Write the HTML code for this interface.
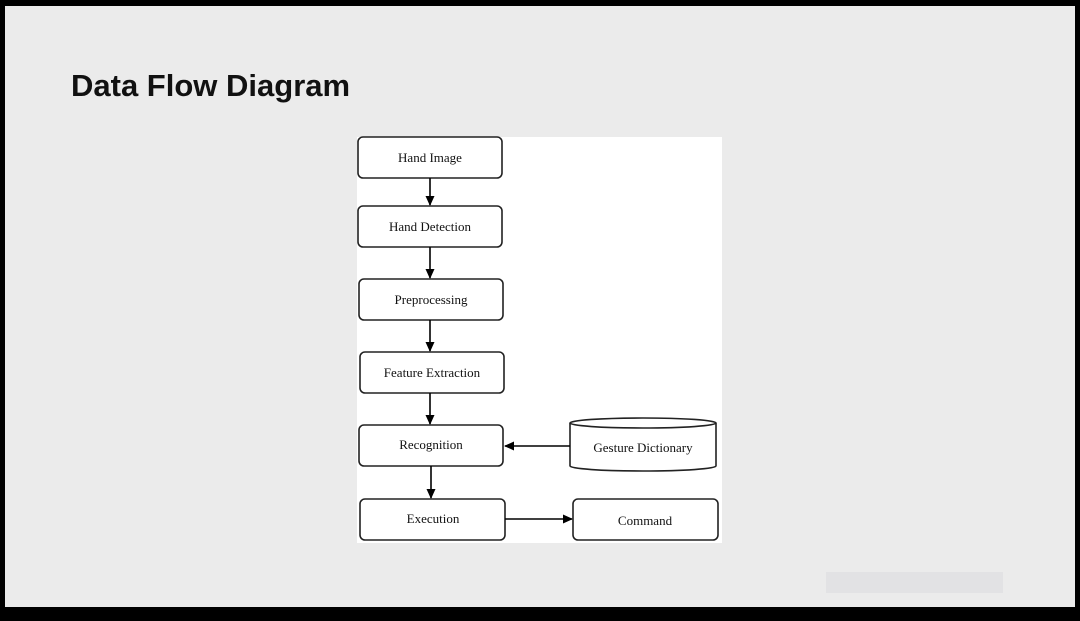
<!DOCTYPE html>
<html><head><meta charset="utf-8"><style>
html,body{margin:0;padding:0;background:#000;}
body{width:1080px;height:621px;position:relative;overflow:hidden;}
.slide{position:absolute;left:5px;top:6px;width:1070px;height:601px;background:#ebebeb;}
h1{position:absolute;left:71px;top:68px;margin:0;font:bold 31px "Liberation Sans",sans-serif;color:#111;}
.gray{position:absolute;left:826px;top:572px;width:177px;height:21px;background:#e2e2e4;}
</style></head><body>
<div class="slide"></div>
<h1>Data Flow Diagram</h1>
<div class="gray"></div>
<svg width="1080" height="621" style="position:absolute;left:0;top:0" font-family="Liberation Serif, serif" font-size="13">
<defs><marker id="a" markerWidth="10" markerHeight="10" refX="9" refY="5" orient="auto" markerUnits="userSpaceOnUse"><path d="M0,0.5 L10,5 L0,9.5z" fill="#000"/></marker></defs>
<rect x="357" y="137" width="365" height="406" fill="#fff"/>
<g fill="#fff" stroke="#222" stroke-width="1.6">
<rect x="358" y="137" width="144" height="41" rx="5"/>
<rect x="358" y="206" width="144" height="41" rx="5"/>
<rect x="359" y="279" width="144" height="41" rx="5"/>
<rect x="360" y="352" width="144" height="41" rx="5"/>
<rect x="359" y="425" width="144" height="41" rx="5"/>
<rect x="360" y="499" width="145" height="41" rx="5"/>
<rect x="573" y="499" width="145" height="41" rx="5"/>
<path d="M570,423 L570,466 A73,5 0 0 0 716,466 L716,423"/>
<ellipse cx="643" cy="423" rx="73" ry="5"/>
</g>
<g stroke="#000" stroke-width="1.6" marker-end="url(#a)">
<line x1="430" y1="178" x2="430" y2="205"/>
<line x1="430" y1="247" x2="430" y2="278"/>
<line x1="430" y1="320" x2="430" y2="351"/>
<line x1="430" y1="393" x2="430" y2="424"/>
<line x1="431" y1="466" x2="431" y2="498"/>
<line x1="570" y1="446" x2="505" y2="446"/>
<line x1="505" y1="519" x2="572" y2="519"/>
</g>
<g text-anchor="middle" fill="#111">
<text x="430" y="162">Hand Image</text>
<text x="430" y="231">Hand Detection</text>
<text x="431" y="304">Preprocessing</text>
<text x="432" y="377">Feature Extraction</text>
<text x="431" y="449">Recognition</text>
<text x="433" y="523">Execution</text>
<text x="645" y="525">Command</text>
<text x="643" y="452">Gesture Dictionary</text>
</g>
</svg>
</body></html>
